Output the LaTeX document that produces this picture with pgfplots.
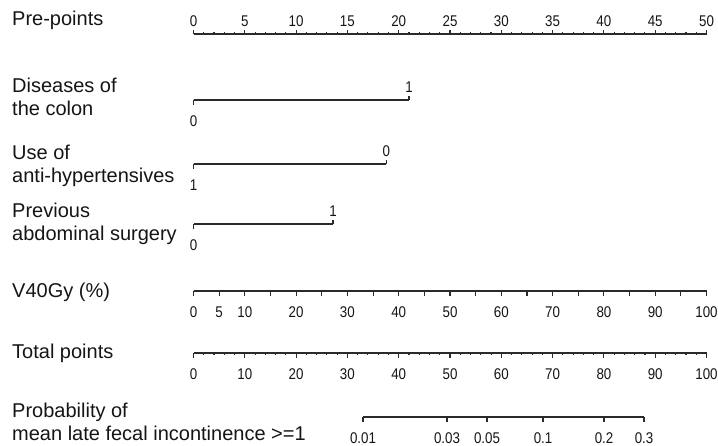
\documentclass[border=0pt]{standalone}
\usepackage{fontspec}
\setmainfont{Liberation Sans}
\newfontfamily\tickfam[FakeStretch=0.86]{Liberation Sans}
\usepackage{pgfplots}
\pgfplotsset{compat=1.18}
\definecolor{lc}{HTML}{2A2A2A}
\definecolor{tc}{HTML}{151515}
\newcommand\rowfont{\fontsize{20}{23}\selectfont}
\newcommand\tickfont{\tickfam\fontsize{15.5}{15.5}\selectfont}
\pgfdeclareplotmark{tkuL}{\pgfpathmoveto{\pgfpointorigin}\pgfpathlineto{\pgfqpoint{0pt}{4.5pt}}\pgfusepathqstroke}
\pgfdeclareplotmark{tkuS}{\pgfpathmoveto{\pgfpointorigin}\pgfpathlineto{\pgfqpoint{0pt}{2.2pt}}\pgfusepathqstroke}
\pgfdeclareplotmark{tkdL}{\pgfpathmoveto{\pgfpointorigin}\pgfpathlineto{\pgfqpoint{0pt}{-4.5pt}}\pgfusepathqstroke}
\pgfdeclareplotmark{tkdS}{\pgfpathmoveto{\pgfpointorigin}\pgfpathlineto{\pgfqpoint{0pt}{-2.2pt}}\pgfusepathqstroke}
\pgfplotsset{
  nomo/.style={scale only axis, width=718pt, height=445pt, ymin=0, ymax=445,
    y dir=reverse, hide axis, clip=false, at={(0pt,0pt)}, anchor=south west},
  scl/.style={color=lc, line width=1.1pt, mark=none},
  tk/.style={color=lc, only marks, mark=#1, mark options={line width=1.1pt}},
  labbelow/.style={nodes near coords, point meta=explicit symbolic,
    every node near coord/.append style={anchor=base, yshift=-26pt, font=\tickfont, inner sep=0pt, text=tc}},
  lababove/.style={nodes near coords, point meta=explicit symbolic,
    every node near coord/.append style={anchor=base, yshift=8pt, font=\tickfont, inner sep=0pt, text=tc}},
}
\begin{document}
\begin{tikzpicture}
% ---------- axis in pre-points units (0..50) ----------
\begin{axis}[nomo, xmin=-18.860, xmax=51.121]
\path (rel axis cs:0,0) rectangle (rel axis cs:1,1);
% Pre-points
\addplot[scl] coordinates {(0,34) (50,34)};
\addplot[tk=tkuS] coordinates {(0,34)(1,34)(2,34)(3,34)(4,34)(5,34)(6,34)(7,34)(8,34)(9,34)(10,34)
 (11,34)(12,34)(13,34)(14,34)(15,34)(16,34)(17,34)(18,34)(19,34)(20,34)
 (21,34)(22,34)(23,34)(24,34)(25,34)(26,34)(27,34)(28,34)(29,34)(30,34)
 (31,34)(32,34)(33,34)(34,34)(35,34)(36,34)(37,34)(38,34)(39,34)(40,34)
 (41,34)(42,34)(43,34)(44,34)(45,34)(46,34)(47,34)(48,34)(49,34)(50,34)};
\addplot[tk=tkuL, lababove] coordinates {(0,34)[0] (5,34)[5] (10,34)[10] (15,34)[15] (20,34)[20]
 (25,34)[25] (30,34)[30] (35,34)[35] (40,34)[40] (45,34)[45] (50,34)[50]};
% Diseases of the colon
\addplot[scl] coordinates {(0,100) (21.0,100)};
\addplot[tk=tkdL, labbelow] coordinates {(0,100)[0]};
\addplot[tk=tkuL, lababove] coordinates {(21.0,100)[1]};
% Use of anti-hypertensives
\addplot[scl] coordinates {(0,164) (18.8,164)};
\addplot[tk=tkdL, labbelow] coordinates {(0,164)[1]};
\addplot[tk=tkuL, lababove] coordinates {(18.8,164)[0]};
% Previous abdominal surgery
\addplot[scl] coordinates {(0,224) (13.6,224)};
\addplot[tk=tkdL, labbelow] coordinates {(0,224)[0]};
\addplot[tk=tkuL, lababove] coordinates {(13.6,224)[1]};
% row labels
\begin{scope}[font=\rowfont, text=tc]
\node[anchor=base west, inner sep=0pt] at (axis cs:-17.69,25) {Pre-points};
\node[anchor=base west, inner sep=0pt] at (axis cs:-17.69,92) {Diseases of};
\node[anchor=base west, inner sep=0pt] at (axis cs:-17.69,115) {the colon};
\node[anchor=base west, inner sep=0pt] at (axis cs:-17.69,159) {Use of};
\node[anchor=base west, inner sep=0pt] at (axis cs:-17.69,182) {anti-hypertensives};
\node[anchor=base west, inner sep=0pt] at (axis cs:-17.69,217) {Previous};
\node[anchor=base west, inner sep=0pt] at (axis cs:-17.69,240) {abdominal surgery};
\node[anchor=base west, inner sep=0pt] at (axis cs:-17.69,297) {V40Gy (\%)};
\node[anchor=base west, inner sep=0pt] at (axis cs:-17.69,358) {Total points};
\node[anchor=base west, inner sep=0pt] at (axis cs:-17.69,417) {Probability of};
\node[anchor=base west, inner sep=0pt] at (axis cs:-17.69,440) {mean late fecal incontinence >=1};
\end{scope}
\end{axis}
% ---------- axis in 0..100 units (V40Gy, total points, probability) ----------
\begin{axis}[nomo, xmin=-37.719, xmax=102.242]
% V40Gy (%)
\addplot[scl] coordinates {(0,291) (100,291)};
\addplot[tk=tkdL] coordinates {(0,291)(5,291)(10,291)(15,291)(20,291)(25,291)(30,291)(35,291)(40,291)
 (45,291)(50,291)(55,291)(60,291)(65,291)(70,291)(75,291)(80,291)(85,291)(90,291)(95,291)(100,291)};
\addplot[tk=tkdL, labbelow] coordinates {(0,291)[0] (5,291)[5] (10,291)[10] (20,291)[20] (30,291)[30]
 (40,291)[40] (50,291)[50] (60,291)[60] (70,291)[70] (80,291)[80] (90,291)[90] (100,291)[100]};
% Total points
\addplot[scl] coordinates {(0,353) (100,353)};
\addplot[tk=tkdS] coordinates {(0,353)(2,353)(4,353)(6,353)(8,353)(10,353)(12,353)(14,353)(16,353)(18,353)
 (20,353)(22,353)(24,353)(26,353)(28,353)(30,353)(32,353)(34,353)(36,353)(38,353)
 (40,353)(42,353)(44,353)(46,353)(48,353)(50,353)(52,353)(54,353)(56,353)(58,353)
 (60,353)(62,353)(64,353)(66,353)(68,353)(70,353)(72,353)(74,353)(76,353)(78,353)
 (80,353)(82,353)(84,353)(86,353)(88,353)(90,353)(92,353)(94,353)(96,353)(98,353)(100,353)};
\addplot[tk=tkdL, labbelow] coordinates {(0,353)[0] (10,353)[10] (20,353)[20] (30,353)[30] (40,353)[40]
 (50,353)[50] (60,353)[60] (70,353)[70] (80,353)[80] (90,353)[90] (100,353)[100]};
% Probability (positions in total points)
\addplot[scl] coordinates {(33.04,417) (87.82,417)};
\addplot[tk=tkdL, labbelow] coordinates {(33.04,417)[0.01] (49.42,417)[0.03] (57.21,417)[0.05]
 (68.13,417)[0.1] (80.02,417)[0.2] (87.82,417)[0.3]};
\end{axis}
\end{tikzpicture}
\end{document}
